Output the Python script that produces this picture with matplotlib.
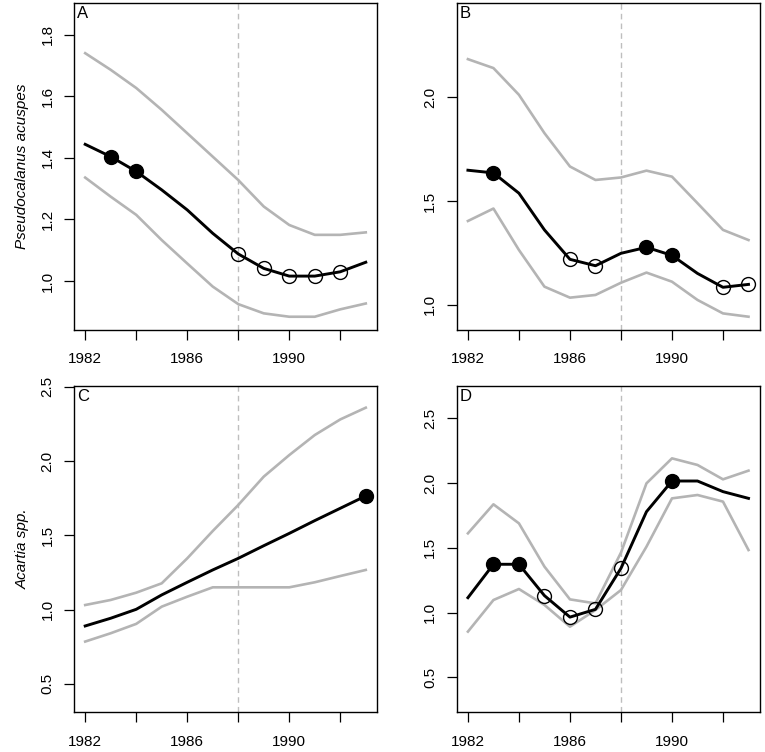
import numpy as np
import matplotlib
matplotlib.use('Agg')
import matplotlib.pyplot as plt

plt.rcParams['font.family'] = ['Liberation Sans', 'DejaVu Sans']

# years (same for all panels)
years = [1982, 1983, 1984, 1985, 1986, 1987, 1988, 1989, 1990, 1991, 1992, 1993]

# panel A
a_mean  = [1.444, 1.404, 1.356, 1.296, 1.231, 1.155, 1.088, 1.041, 1.016, 1.016, 1.030, 1.061]
a_upper = [1.740, 1.686, 1.627, 1.556, 1.480, 1.404, 1.328, 1.242, 1.182, 1.150, 1.150, 1.158]
a_lower = [1.336, 1.274, 1.215, 1.133, 1.057, 0.982, 0.925, 0.895, 0.884, 0.884, 0.908, 0.927]
a_filled = [1983, 1984]
a_open = [1988, 1989, 1990, 1991, 1992]

# panel B
b_mean  = [1.649, 1.636, 1.538, 1.361, 1.219, 1.188, 1.248, 1.277, 1.238, 1.151, 1.084, 1.098]
b_upper = [2.185, 2.142, 2.013, 1.828, 1.667, 1.602, 1.614, 1.647, 1.618, 1.490, 1.361, 1.312]
b_lower = [1.404, 1.464, 1.264, 1.087, 1.034, 1.047, 1.106, 1.155, 1.111, 1.023, 0.958, 0.942]
b_filled = [1983, 1989, 1990]
b_open = [1986, 1987, 1992, 1993]

# panel C
c_mean  = [0.890, 0.942, 1.002, 1.099, 1.184, 1.267, 1.345, 1.430, 1.513, 1.599, 1.682, 1.765]
c_upper = [1.031, 1.065, 1.114, 1.177, 1.345, 1.529, 1.704, 1.895, 2.040, 2.175, 2.280, 2.359]
c_lower = [0.785, 0.841, 0.904, 1.020, 1.087, 1.150, 1.150, 1.150, 1.150, 1.184, 1.226, 1.267]
c_filled = [1993]
c_open = []

# panel D
d_mean  = [1.115, 1.373, 1.373, 1.131, 0.965, 1.025, 1.342, 1.779, 2.016, 2.016, 1.934, 1.882]
d_upper = [1.612, 1.836, 1.689, 1.355, 1.102, 1.071, 1.463, 1.998, 2.191, 2.140, 2.029, 2.096]
d_lower = [0.853, 1.097, 1.182, 1.059, 0.891, 1.020, 1.174, 1.509, 1.882, 1.908, 1.857, 1.483]
d_filled = [1983, 1984, 1990]
d_open = [1985, 1986, 1987, 1988]

xticks = [1982, 1984, 1986, 1988, 1990, 1992]
xticklabels = ['1982', '', '1986', '', '1990', '']

fig = plt.figure(figsize=(7.65, 7.52), dpi=100)

def panel(pos, mean, upper, lower, filled, opn, letter, ylim, yticks, ylabel=None):
    ax = fig.add_axes(pos)
    ax.axvline(1988, color='#bebebe', lw=1.0, ls=(0, (4, 3)), zorder=1)
    ax.plot(years, upper, color='#b4b4b4', lw=1.9, zorder=2)
    ax.plot(years, lower, color='#b4b4b4', lw=1.9, zorder=2)
    ax.plot(years, mean, color='black', lw=2.1, zorder=3)
    # significant years
    yr = np.array(years)
    m = np.array(mean)
    fy = [m[yr == y][0] for y in filled]
    oy = [m[yr == y][0] for y in opn]
    ax.plot(filled, fy, 'o', color='black', ms=10, zorder=4)
    ax.plot(opn, oy, 'o', mfc='none', mec='black', ms=10, mew=1.0, zorder=4)
    ax.set_xlim(1981.56, 1993.44)
    ax.set_ylim(*ylim)
    ax.set_xticks(xticks)
    ax.set_xticklabels(xticklabels)
    ax.set_yticks(yticks)
    ax.set_yticklabels(['%.1f' % t for t in yticks], rotation=90, va='center')
    ax.tick_params(direction='out', length=7, width=0.9, labelsize=11, color='black')
    ax.tick_params(axis='x', pad=9)
    ax.tick_params(axis='y', pad=7)
    for s in ax.spines.values():
        s.set_linewidth(1.0)
    ax.text(0.01, 0.99, letter, transform=ax.transAxes, ha='left', va='top', fontsize=12)
    if ylabel:
        ax.set_ylabel(ylabel, fontsize=11, style='italic', labelpad=8)
    return ax

panel([0.0967, 0.5612, 0.3961, 0.4348], a_mean, a_upper, a_lower, a_filled, a_open,
      'A', (0.841, 1.903), [1.0, 1.2, 1.4, 1.6, 1.8], 'Pseudocalanus acuspes')
panel([0.597, 0.5612, 0.3961, 0.4348], b_mean, b_upper, b_lower, b_filled, b_open,
      'B', (0.878, 2.456), [1.0, 1.5, 2.0])
panel([0.0967, 0.0528, 0.3961, 0.4343], c_mean, c_upper, c_lower, c_filled, c_open,
      'C', (0.309, 2.507), [0.5, 1.0, 1.5, 2.0, 2.5], 'Acartia spp.')
panel([0.597, 0.0528, 0.3961, 0.4343], d_mean, d_upper, d_lower, d_filled, d_open,
      'D', (0.230, 2.752), [0.5, 1.0, 1.5, 2.0, 2.5])

fig.savefig('out.png', dpi=100)
